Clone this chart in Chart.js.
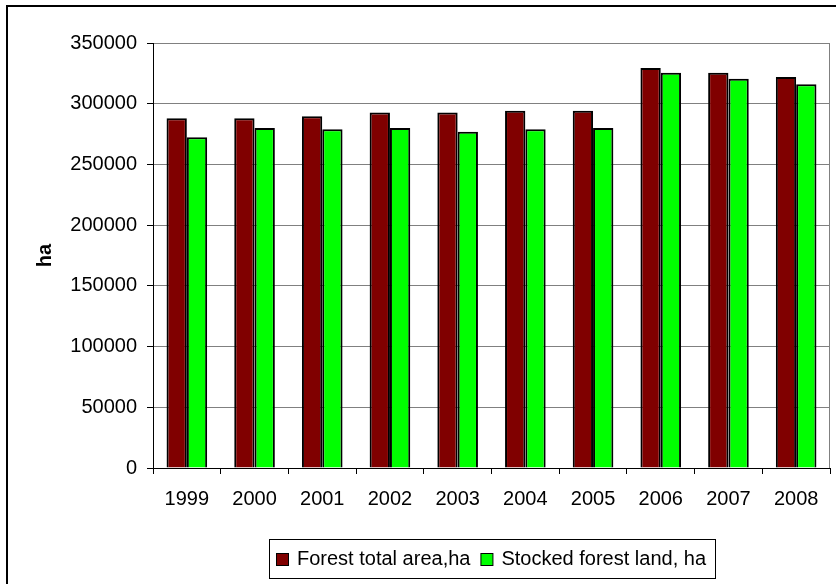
<!DOCTYPE html>
<html>
<head>
<meta charset="utf-8">
<script src="https://cdn.jsdelivr.net/npm/chart.js@4/dist/chart.umd.min.js"></script>
<style>
  html, body { margin: 0; padding: 0; background: #ffffff; }
  canvas { display: block; }
</style>
</head>
<body>
<canvas id="c" width="836" height="584"></canvas>
<script>
// Forest area by year, hectares
const years = ['1999', '2000', '2001', '2002', '2003', '2004', '2005', '2006', '2007', '2008'];
const forestTotal = [288000, 288000, 289700, 292700, 292700, 294300, 294300, 329500, 325400, 322100];
const stockedLand = [272300, 280100, 278900, 280100, 277000, 278900, 280100, 325400, 320500, 316000];
const seriesNames = ['Forest total area,ha', 'Stocked forest land, ha'];
const yTicks = { min: 0, max: 350000, step: 50000 };
const yTitle = 'ha';

const FONT = "'Liberation Sans', Arial, sans-serif";

// Frame, plot-area edge and the boxed legend under the axis
const framePlugin = {
  id: 'frame',
  beforeDraw(chart) {
    const ctx = chart.ctx;
    ctx.save();
    ctx.fillStyle = '#ffffff';
    ctx.fillRect(0, 0, chart.width, chart.height);
    ctx.restore();
  },
  beforeDatasetsDraw(chart) {
    const { ctx, chartArea: a } = chart;
    ctx.save();
    ctx.strokeStyle = '#808080';
    ctx.lineWidth = 1;
    ctx.beginPath();
    ctx.moveTo(Math.round(a.right) - 0.5, a.top);
    ctx.lineTo(Math.round(a.right) - 0.5, a.bottom);
    ctx.stroke();
    ctx.restore();
  },
  afterDraw(chart) {
    const { ctx, chartArea: a } = chart;
    ctx.save();
    // outer frame
    ctx.strokeStyle = '#000000';
    ctx.lineWidth = 2;
    ctx.strokeRect(7, 6, chart.width + 20, chart.height + 20);

    // legend
    ctx.font = '20px ' + FONT;
    ctx.textBaseline = 'middle';
    const ds = chart.data.datasets;
    const padL = 7, padR = 9, box = 12, gap = 9, itemGap = 10;
    const widths = ds.map(d => ctx.measureText(d.label).width);
    let total = padL + padR;
    widths.forEach((w, i) => { total += box + gap + w + (i < ds.length - 1 ? itemGap : 0); });
    const cx = (a.left + a.right) / 2;
    const left = Math.round(cx - total / 2);
    const top = 539, h = 40;
    ctx.lineWidth = 1;
    ctx.strokeStyle = '#000000';
    ctx.strokeRect(left + 0.5, top + 0.5, total, h - 1);
    const midY = top + h / 2;
    let x = left + padL;
    ds.forEach((d, i) => {
      ctx.fillStyle = d.backgroundColor;
      ctx.fillRect(x + 0.5, midY - box / 2 + 0.5, box, box);
      ctx.strokeStyle = '#000000';
      ctx.strokeRect(x + 0.5, midY - box / 2 + 0.5, box, box);
      x += box + gap;
      ctx.fillStyle = '#000000';
      ctx.textAlign = 'left';
      ctx.fillText(d.label, x, midY);
      x += widths[i] + itemGap;
    });
    ctx.restore();
  }
};

new Chart(document.getElementById('c'), {
  type: 'bar',
  data: {
    labels: years,
    datasets: [
      {
        label: seriesNames[0],
        data: forestTotal,
        backgroundColor: '#800000',
        borderColor: '#000000',
        borderWidth: 2
      },
      {
        label: seriesNames[1],
        data: stockedLand,
        backgroundColor: '#00ff00',
        borderColor: '#000000',
        borderWidth: 2
      }
    ]
  },
  options: {
    responsive: false,
    animation: false,
    devicePixelRatio: 1,
    layout: { padding: { top: 43, right: 6, left: 0, bottom: 0 } },
    datasets: { bar: { categoryPercentage: 0.6, barPercentage: 1.0 } },
    plugins: {
      legend: { display: false },
      tooltip: { enabled: false }
    },
    scales: {
      x: {
        grid: {
          offset: true,
          drawOnChartArea: false,
          drawTicks: true,
          tickLength: 6,
          color: '#000000',
          tickColor: '#000000'
        },
        border: { display: true, color: '#000000', width: 1 },
        ticks: {
          color: '#000000',
          font: { family: FONT, size: 20 },
          padding: 13,
          maxRotation: 0
        },
        afterFit(scale) { scale.height = 116; }
      },
      y: {
        min: yTicks.min,
        max: yTicks.max,
        grid: {
          color: '#808080',
          tickColor: '#000000',
          tickLength: 6,
          lineWidth: 1
        },
        border: { display: true, color: '#000000', width: 1 },
        ticks: {
          stepSize: yTicks.step,
          color: '#000000',
          font: { family: FONT, size: 20 },
          padding: 10,
          callback: (v) => String(v)
        },
        title: {
          display: true,
          text: yTitle,
          color: '#000000',
          font: { family: FONT, size: 20, weight: 'bold' },
          padding: { top: 33, bottom: 0 }
        },
        afterFit(scale) { scale.width = 153; }
      }
    }
  },
  plugins: [framePlugin]
});
</script>
</body>
</html>
